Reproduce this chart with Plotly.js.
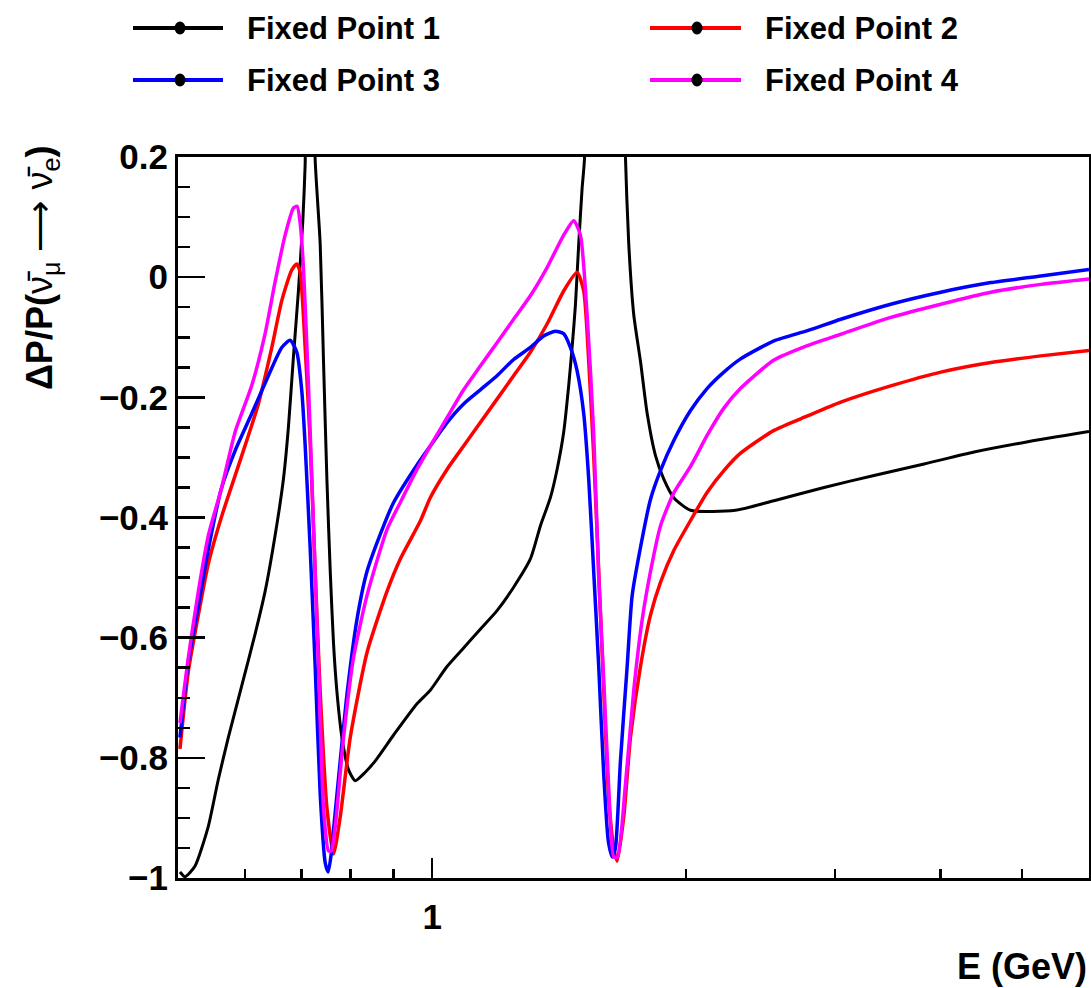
<!DOCTYPE html>
<html>
<head>
<meta charset="utf-8">
<script src="https://cdn.plot.ly/plotly-3.0.1.min.js"></script>
<style>html,body{margin:0;padding:0;background:#fff;}</style>
</head>
<body>
<div id="chart" style="width:1091px;height:988px;"></div>
<script>
// ---------------- DATA ----------------
const seriesNames = ['Fixed Point 1', 'Fixed Point 2', 'Fixed Point 3', 'Fixed Point 4'];
const seriesColors = ['#000000', '#ff0000', '#0000ff', '#ff00ff'];

// Fixed Point 1 (black)
const fp1E = [0.5027, 0.5097, 0.5238, 0.5431, 0.5581, 0.5736, 0.5950, 0.6170, 0.6341, 0.6516,
  0.6666, 0.6757, 0.6850, 0.6944, 0.7028, 0.7073, 0.7122, 0.7210, 0.7269, 0.7369,
  0.7436, 0.7505, 0.7574, 0.7642, 0.7713, 0.7819, 0.7962, 0.8108, 0.8333, 0.8564,
  0.9003, 0.9596, 0.9950, 1.0415, 1.0897, 1.1405, 1.1937, 1.2490, 1.3073, 1.3435,
  1.3807, 1.4061, 1.4317, 1.4515, 1.4650, 1.4782, 1.4916, 1.5055, 1.5150, 1.5304,
  1.6044, 1.6807, 1.6945, 1.7098, 1.7333, 1.7653, 1.7979, 1.8391, 1.8812, 1.9333,
  2.0236, 2.2882, 2.5407, 2.9129, 3.3378, 3.8262, 4.3858, 5.0274, 6.0];
const fp1Y = [-0.99, -0.998, -0.98, -0.914, -0.836, -0.766, -0.68, -0.594, -0.523, -0.43,
  -0.336, -0.25, -0.133, -0.023, 0.094, 0.188, 0.45, 0.45, 0.195, 0.055,
  -0.14, -0.336, -0.49, -0.61, -0.69, -0.766, -0.82, -0.838, -0.824, -0.805,
  -0.762, -0.71, -0.6875, -0.648, -0.617, -0.586, -0.555, -0.516, -0.469, -0.414,
  -0.367, -0.32, -0.258, -0.18, -0.117, -0.047, 0.055, 0.148, 0.195, 0.6,
  3.0, 0.6, 0.2, 0.055, -0.0625, -0.14, -0.227, -0.297, -0.336, -0.367,
  -0.388, -0.388, -0.372, -0.35, -0.33, -0.311, -0.291, -0.275, -0.257];

// Fixed Point 2 (red)
const fp2E = [0.5027, 0.5143, 0.5285, 0.5431, 0.5633, 0.5950, 0.6226, 0.6458, 0.6636, 0.6820,
  0.6914, 0.6977, 0.7073, 0.7170, 0.7269, 0.7369, 0.7505, 0.7642, 0.7783, 0.7999,
  0.8372, 0.8842, 0.9169, 0.9683, 0.9950, 1.0415, 1.0897, 1.1405, 1.1937, 1.2490,
  1.3073, 1.3683, 1.4317, 1.4851, 1.5121, 1.5329, 1.5539, 1.5753, 1.5970, 1.6189,
  1.6412, 1.6565, 1.6866, 1.7178, 1.7653, 1.8141, 1.8643, 1.9333, 2.0236, 2.1180,
  2.2162, 2.3196, 2.5407, 2.7839, 3.0487, 3.4934, 4.0048, 4.5904, 5.2618, 6.0];
const fp2Y = [-0.785, -0.656, -0.5625, -0.477, -0.398, -0.297, -0.211, -0.117, -0.039, 0.012,
  0.022, 0.008, -0.117, -0.273, -0.49, -0.69, -0.883, -0.96, -0.898, -0.766,
  -0.625, -0.523, -0.469, -0.406, -0.367, -0.32, -0.281, -0.242, -0.203, -0.164,
  -0.125, -0.078, -0.023, 0.008, -0.023, -0.14, -0.297, -0.49, -0.6875, -0.867,
  -0.95, -0.972, -0.898, -0.766, -0.648, -0.5625, -0.508, -0.455, -0.405, -0.358,
  -0.322, -0.293, -0.255, -0.231, -0.208, -0.181, -0.158, -0.142, -0.131, -0.122];

// Fixed Point 3 (blue)
const fp3E = [0.5027, 0.5143, 0.5285, 0.5431, 0.5633, 0.5842, 0.6115, 0.6398, 0.6636, 0.6789,
  0.6914, 0.7009, 0.7073, 0.7170, 0.7269, 0.7369, 0.7471, 0.7532, 0.7594, 0.7642,
  0.7783, 0.7927, 0.8146, 0.8372, 0.8760, 0.9003, 0.9596, 0.9950, 1.0415, 1.0897,
  1.1405, 1.1937, 1.2490, 1.3073, 1.3556, 1.3996, 1.4317, 1.4582, 1.4851, 1.5121,
  1.5329, 1.5539, 1.5753, 1.5970, 1.6176, 1.6354, 1.6488, 1.6715, 1.7023, 1.7257,
  1.7653, 1.8141, 1.8643, 1.9333, 2.0236, 2.1180, 2.2162, 2.3196, 2.5407, 2.7839,
  3.0487, 3.4934, 4.0048, 4.5904, 5.2618, 6.0];
const fp3Y = [-0.766, -0.64, -0.547, -0.453, -0.35, -0.289, -0.227, -0.164, -0.117, -0.105,
  -0.125, -0.19, -0.28, -0.45, -0.648, -0.86, -0.975, -0.99, -0.96, -0.92,
  -0.805, -0.695, -0.57, -0.49, -0.414, -0.375, -0.3125, -0.281, -0.242, -0.211,
  -0.1875, -0.164, -0.137, -0.117, -0.098, -0.09, -0.094, -0.117, -0.156, -0.227,
  -0.336, -0.49, -0.648, -0.828, -0.94, -0.965, -0.95, -0.805, -0.648, -0.53,
  -0.45, -0.37, -0.322, -0.272, -0.222, -0.185, -0.158, -0.136, -0.106, -0.089,
  -0.07, -0.045, -0.025, -0.009, 0.002, 0.013];

// Fixed Point 4 (magenta)
const fp4E = [0.5027, 0.5143, 0.5285, 0.5431, 0.5633, 0.5842, 0.6115, 0.6341, 0.6516, 0.6697,
  0.6850, 0.6920, 0.6977, 0.7040, 0.7137, 0.7236, 0.7335, 0.7436, 0.7538, 0.7594,
  0.7678, 0.7854, 0.8071, 0.8372, 0.8842, 0.9169, 0.9596, 0.9950, 1.0415, 1.0897,
  1.1405, 1.1937, 1.2490, 1.3073, 1.3683, 1.4317, 1.4714, 1.4985, 1.5262, 1.5539,
  1.5753, 1.5970, 1.6189, 1.6412, 1.6579, 1.6945, 1.7333, 1.7735, 1.8141, 1.8643,
  1.9333, 2.0236, 2.1180, 2.2162, 2.3196, 2.5407, 2.7839, 3.0487, 3.4934, 4.0048,
  4.5904, 5.2618, 6.0];
const fp4Y = [-0.742, -0.633, -0.523, -0.43, -0.35, -0.258, -0.18, -0.094, -0.008, 0.07,
  0.115, 0.118, 0.09, 0.016, -0.18, -0.414, -0.648, -0.883, -0.955, -0.955,
  -0.914, -0.766, -0.633, -0.53, -0.42, -0.375, -0.32, -0.281, -0.234, -0.1875,
  -0.148, -0.109, -0.07, -0.031, 0.016, 0.07, 0.094, 0.07, -0.0625, -0.26,
  -0.5, -0.67, -0.85, -0.965, -0.965, -0.844, -0.6875, -0.57, -0.49, -0.414,
  -0.359, -0.315, -0.263, -0.218, -0.185, -0.138, -0.114, -0.095, -0.067, -0.045,
  -0.025, -0.012, -0.003];

const seriesE = [fp1E, fp2E, fp3E, fp4E];
const seriesY = [fp1Y, fp2Y, fp3Y, fp4Y];

// Tick labels
const xMajorTickVals = [1];
const xMajorTickText = ['1'];
const xMinorTickVals = [0.6, 0.7, 0.8, 0.9, 2, 3, 4, 5];
const xRange = [0.5, 6];
const yRange = [-1, 0.2];

// ---------------- LAYOUT ----------------
const W = 1091, H = 988, L = 178, R = 2, T = 157, B = 110;
const PW = W - L - R, PH = H - T - B;
const px = v => (v - L) / PW;
const py = v => (H - B - v) / PH;
const FONT = 'Liberation Sans, Arial, Helvetica, sans-serif';

const traces = seriesNames.map((name, i) => ({
  type: 'scatter',
  mode: 'lines',
  name: name,
  x: seriesE[i],
  y: seriesY[i],
  line: { color: seriesColors[i], width: i === 0 ? 3 : 3.5, shape: 'spline', smoothing: 0.6 },
  showlegend: false,
  hoverinfo: 'skip'
}));

// manual legend (ROOT style)
const legCols = [{ l0: 133, l1: 223, m: 180, t: 245 }, { l0: 650, l1: 741, m: 697, t: 763 }];
const legRows = [28, 80];
const shapes = [];
const annotations = [];
seriesNames.forEach((name, i) => {
  const c = legCols[i % 2];
  const ry = legRows[Math.floor(i / 2)];
  shapes.push({
    type: 'line', xref: 'paper', yref: 'paper',
    x0: px(c.l0), x1: px(c.l1), y0: py(ry), y1: py(ry),
    line: { color: seriesColors[i], width: 4 }
  });
  shapes.push({
    type: 'circle', xref: 'paper', yref: 'paper',
    xsizemode: 'pixel', ysizemode: 'pixel',
    xanchor: px(c.m), yanchor: py(ry),
    x0: -5.5, x1: 5.5, y0: -6.5, y1: 6.5,
    fillcolor: '#000', line: { color: '#000', width: 0 }
  });
  annotations.push({
    xref: 'paper', yref: 'paper', x: px(c.t), y: py(ry),
    xanchor: 'left', yanchor: 'middle', showarrow: false,
    text: '<b>' + name + '</b>',
    font: { family: FONT, size: 31, color: '#000' }
  });
});

// axis titles
annotations.push({
  xref: 'paper', yref: 'paper', x: px(42), y: py(268),
  xanchor: 'center', yanchor: 'middle', showarrow: false, textangle: -90,
  text: '<b>ΔP/P(</b>ν\u0304<sub>μ</sub> ⟶ ν\u0304<sub>e</sub><b>)</b>',
  font: { family: FONT, size: 36, color: '#000' }
});
annotations.push({
  xref: 'paper', yref: 'paper', x: 1, y: py(966),
  xanchor: 'right', yanchor: 'middle', showarrow: false,
  text: '<b>E (GeV)</b>',
  font: { family: FONT, size: 36, color: '#000' }
});

const tickFont = { family: FONT, size: 35, color: '#000', weight: 'bold' };

const layout = {
  width: W, height: H,
  margin: { l: L, r: R, t: T, b: B, pad: 0 },
  paper_bgcolor: '#fff', plot_bgcolor: '#fff',
  showlegend: false,
  xaxis: {
    type: 'log',
    range: [Math.log10(xRange[0]), Math.log10(xRange[1])],
    showline: true, mirror: true, linecolor: '#000', linewidth: 3,
    showgrid: false, zeroline: false,
    ticks: 'inside', ticklen: 20, tickwidth: 2.5, tickcolor: '#000',
    tickmode: 'array', tickvals: xMajorTickVals, ticktext: xMajorTickText,
    ticklabelstandoff: 6,
    tickfont: tickFont,
    minor: { tickmode: 'array', tickvals: xMinorTickVals, ticks: 'inside', ticklen: 9, tickwidth: 2.5, tickcolor: '#000', showgrid: false }
  },
  yaxis: {
    range: yRange,
    showline: true, mirror: true, linecolor: '#000', linewidth: 3,
    showgrid: false, zeroline: false,
    ticks: 'inside', ticklen: 27, tickwidth: 2.5, tickcolor: '#000',
    tick0: 0, dtick: 0.2,
    tickfont: tickFont,
    minor: { dtick: 0.05, ticks: 'inside', ticklen: 12, tickwidth: 2.5, tickcolor: '#000', showgrid: false }
  },
  shapes: shapes,
  annotations: annotations
};

Plotly.newPlot('chart', traces, layout, { displayModeBar: false, staticPlot: true });
</script>
</body>
</html>
